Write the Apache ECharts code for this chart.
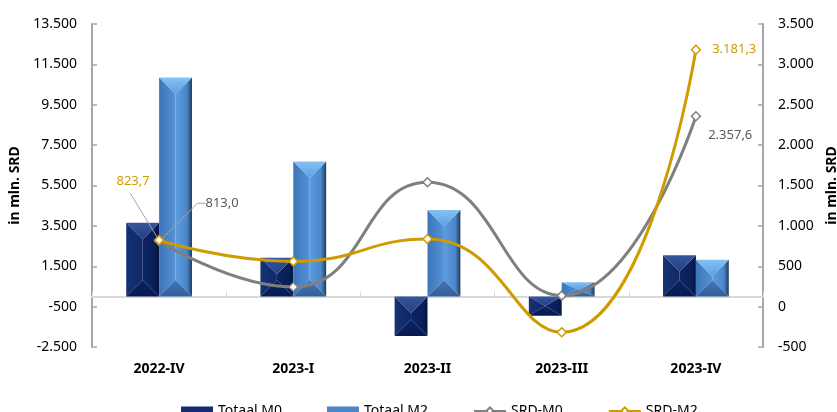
<!DOCTYPE html>
<html>
<head>
<meta charset="utf-8">
<script src="https://cdn.jsdelivr.net/npm/echarts@6/dist/echarts.min.js"></script>
<style>
  html, body { margin: 0; padding: 0; background: #fff; }
  #chart { width: 837px; height: 412px; }
</style>
</head>
<body>
<div id="chart"></div>
<script>
// Quarters on the category axis
const categories = ['2022-IV', '2023-I', '2023-II', '2023-III', '2023-IV'];

// Bars (left axis, mln. SRD)
const totaalM0 = [3653, 1920, -1950, -950, 2040];
const totaalM2 = [10850, 6692, 4282, 703, 1822];

// Lines (right axis, mln. SRD)
const srdM0 = [813.0, 243, 1540, 136, 2357.6];
const srdM2 = [823.7, 560, 837, -318, 3181.3];

// Axis ranges
const leftAxis = { min: -2500, max: 13500, interval: 2000 };
const rightAxis = { min: -500, max: 3500, interval: 500 };

const FONT = '"Noto Sans", sans-serif';
const GOLD = '#cf9c00';
const GREY = '#7f7f7f';
const LEADER = '#a6a6a6';

// Dutch number style: "." for thousands, "," for decimals
function nl(v, decimals) {
  const neg = v < 0;
  const s = Math.abs(v).toFixed(decimals);
  const parts = s.split('.');
  const int = parts[0].replace(/\B(?=(\d{3})+(?!\d))/g, '.');
  return (neg ? '-' : '') + int + (parts[1] ? ',' + parts[1] : '');
}

// Bevelled ("pyramid") bar drawn with four faces
function bevelBar(side, pal) {
  return function (params, api) {
    const idx = api.value(0);
    const val = api.value(1);
    const base = api.coord([idx, 0]);
    const tip = api.coord([idx, val]);
    const band = api.size([1, 0])[0];
    const w = band * 0.245;
    const x0 = side < 0 ? base[0] - w : base[0];
    const x1 = x0 + w;
    const cx = (x0 + x1) / 2;
    const yTop = Math.min(base[1], tip[1]);
    const yBot = Math.max(base[1], tip[1]);
    const d = Math.min(w / 2, (yBot - yTop) / 2);
    const H = (stops) => new echarts.graphic.LinearGradient(0, 0, 1, 0, stops);
    const V = (stops) => new echarts.graphic.LinearGradient(0, 0, 0, 1, stops);
    return {
      type: 'group',
      children: [
        { type: 'polygon', shape: { points: [[x0, yTop], [cx, yTop + d], [cx, yBot - d], [x0, yBot]] },
          style: { fill: H(pal.left) } },
        { type: 'polygon', shape: { points: [[x1, yTop], [cx, yTop + d], [cx, yBot - d], [x1, yBot]] },
          style: { fill: H(pal.right) } },
        { type: 'polygon', shape: { points: [[x0, yTop], [x1, yTop], [cx, yTop + d]] },
          style: { fill: V(pal.top) } },
        { type: 'polygon', shape: { points: [[x0, yBot], [x1, yBot], [cx, yBot - d]] },
          style: { fill: V(pal.bottom) } }
      ]
    };
  };
}

const palM0 = {
  left: [{ offset: 0, color: '#163272' }, { offset: 1, color: '#0f2869' }],
  right: [{ offset: 0, color: '#0d2463' }, { offset: 0.7, color: '#0a1e58' }, { offset: 1, color: '#061640' }],
  top: [{ offset: 0, color: '#36559b' }, { offset: 1, color: '#243f86' }],
  bottom: [{ offset: 0, color: '#0c2260' }, { offset: 1, color: '#081a50' }]
};
const palM2 = {
  left: [{ offset: 0, color: '#3d75b8' }, { offset: 1, color: '#5592d6' }],
  right: [{ offset: 0, color: '#5c9ce0' }, { offset: 0.7, color: '#4a86c8' }, { offset: 1, color: '#1f3a5e' }],
  top: [{ offset: 0, color: '#84c2f4' }, { offset: 1, color: '#5d9ee2' }],
  bottom: [{ offset: 0, color: '#4377b6' }, { offset: 1, color: '#335f98' }]
};

const chart = echarts.init(document.getElementById('chart'), null, { renderer: 'canvas' });

const yName = {
  name: 'in mln. SRD',
  nameLocation: 'middle',
  nameRotate: 90,
  nameTextStyle: { fontFamily: FONT, fontSize: 14, fontWeight: 'bold', color: '#000' }
};

const valueLabel = (color, extra) => Object.assign({
  show: true, color: color, fontFamily: FONT, fontSize: 13,
  formatter: (p) => nl(p.value, 1)
}, extra);

chart.setOption({
  animation: false,
  backgroundColor: '#fff',
  grid: { left: 92, right: 74, top: 24, bottom: 65, containLabel: false, outerBoundsMode: 'none' },
  legend: {
    left: 176,
    top: 399,
    itemWidth: 32,
    itemHeight: 9,
    itemGap: 45,
    textStyle: { fontFamily: FONT, fontSize: 14, color: '#000' },
    data: [
      { name: 'Totaal M0', icon: 'rect' },
      { name: 'Totaal M2', icon: 'rect' },
      { name: 'SRD-M0' },
      { name: 'SRD-M2' }
    ]
  },
  xAxis: [
    {
      type: 'category',
      data: categories,
      position: 'bottom',
      axisLine: { show: false, onZero: false },
      axisTick: { show: false },
      axisLabel: { margin: 15, fontFamily: FONT, fontSize: 14, fontWeight: 'bold', color: '#000' }
    },
    {
      type: 'category',
      data: categories,
      position: 'bottom',
      axisLine: { show: true, onZero: true, onZeroAxisIndex: 0, lineStyle: { color: '#d9d9d9', width: 2 } },
      axisTick: { show: true, inside: true, length: 5, lineStyle: { color: '#d9d9d9', width: 1 } },
      axisLabel: { show: false }
    }
  ],
  yAxis: [
    Object.assign({
      type: 'value',
      position: 'left',
      min: leftAxis.min,
      max: leftAxis.max,
      interval: leftAxis.interval,
      nameGap: 69,
      splitLine: { show: false },
      axisLine: { show: true, lineStyle: { color: '#a6a6a6', width: 2 } },
      axisTick: { show: true, inside: true, length: 5, lineStyle: { color: '#a6a6a6', width: 1.5 } },
      axisLabel: { margin: 15, fontFamily: FONT, fontSize: 14, color: '#000', formatter: (v) => nl(v, 0) }
    }, yName),
    Object.assign({
      type: 'value',
      position: 'right',
      min: rightAxis.min,
      max: rightAxis.max,
      interval: rightAxis.interval,
      nameGap: 61,
      splitLine: { show: false },
      axisLine: { show: true, lineStyle: { color: '#a6a6a6', width: 2 } },
      axisTick: { show: true, inside: true, length: 5, lineStyle: { color: '#a6a6a6', width: 1.5 } },
      axisLabel: { margin: 15, fontFamily: FONT, fontSize: 14, color: '#000', formatter: (v) => nl(v, 0) }
    }, yName)
  ],
  series: [
    {
      name: 'Totaal M0',
      type: 'custom',
      xAxisIndex: 0,
      yAxisIndex: 0,
      z: 2,
      itemStyle: { color: '#132d70' },
      renderItem: bevelBar(-1, palM0),
      data: totaalM0.map((v, i) => [i, v])
    },
    {
      name: 'Totaal M2',
      type: 'custom',
      xAxisIndex: 0,
      yAxisIndex: 0,
      z: 2,
      itemStyle: { color: '#4a86c8' },
      renderItem: bevelBar(1, palM2),
      data: totaalM2.map((v, i) => [i, v])
    },
    {
      name: 'SRD-M0',
      type: 'line',
      xAxisIndex: 0,
      yAxisIndex: 1,
      z: 4,
      smooth: 0.5,
      symbol: 'diamond',
      symbolSize: 9,
      lineStyle: { color: GREY, width: 3 },
      itemStyle: { color: '#fff', borderColor: GREY, borderWidth: 1.5 },
      label: { show: false },
      labelLine: { show: true, length2: 8, lineStyle: { color: LEADER, width: 1 } },
      labelLayout: (p) => (p.dataIndex === 0 ? { dx: 63, dy: -21 } : p.dataIndex === 4 ? { dy: 19 } : {}),
      data: srdM0.map((v, i) => {
        if (i === 0) {
          return { value: v, label: valueLabel('#595959', { position: 'top', distance: 5 }) };
        }
        if (i === srdM0.length - 1) {
          return { value: v, label: valueLabel('#595959', { position: 'right', distance: 7 }),
            labelLine: { show: false } };
        }
        return v;
      })
    },
    {
      name: 'SRD-M2',
      type: 'line',
      xAxisIndex: 0,
      yAxisIndex: 1,
      z: 5,
      smooth: 0.5,
      symbol: 'diamond',
      symbolSize: 9,
      lineStyle: { color: GOLD, width: 3 },
      itemStyle: { color: '#fff', borderColor: GOLD, borderWidth: 1.5 },
      label: { show: false },
      labelLayout: (p) => (p.dataIndex === 0 ? { dx: -26, dy: -42 } : {}),
      data: srdM2.map((v, i) => {
        if (i === 0) {
          return { value: v, label: valueLabel(GOLD, { position: 'top', distance: 5 }) };
        }
        if (i === srdM2.length - 1) {
          return { value: v, label: valueLabel(GOLD, { position: 'right', distance: 11 }) };
        }
        return v;
      })
    }
  ]
});

// Leader line from the first SRD-M2 point up to its moved label
const p0 = chart.convertToPixel({ seriesIndex: 3 }, [0, srdM2[0]]);
chart.setOption({
  graphic: [{
    type: 'line',
    z: 3,
    silent: true,
    shape: { x1: p0[0] - 2, y1: p0[1] - 3, x2: p0[0] - 29, y2: p0[1] - 47 },
    style: { stroke: LEADER, lineWidth: 1 }
  }]
});
</script>
</body>
</html>
